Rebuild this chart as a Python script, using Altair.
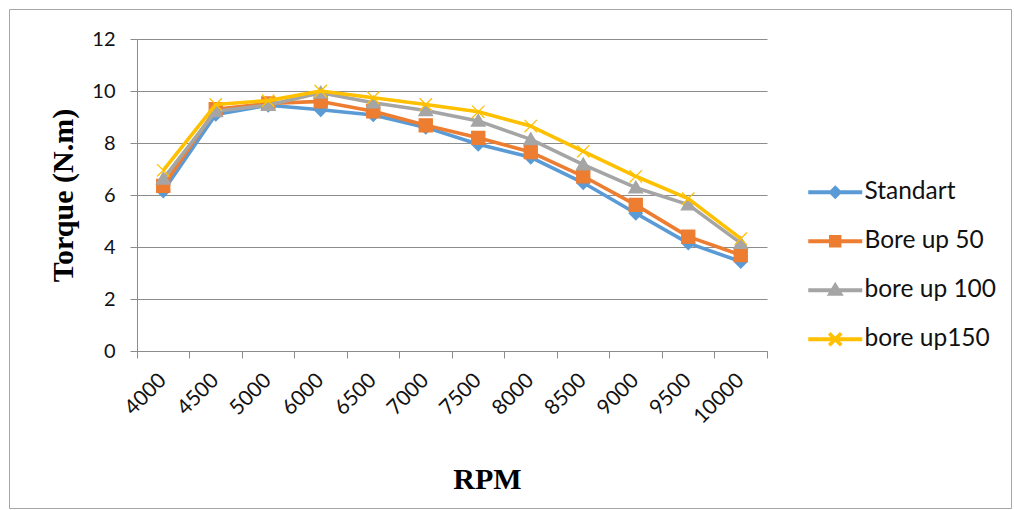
import altair as alt
import pandas as pd

rpm = ["4000", "4500", "5000", "6000", "6500", "7000", "7500", "8000", "8500", "9000", "9500", "10000"]
series_names = ["Standart", "Bore up 50", "bore up 100", "bore up150"]
standart = [6.15, 9.1, 9.45, 9.28, 9.08, 8.6, 7.95, 7.45, 6.47, 5.3, 4.15, 3.44]
bore_up_50 = [6.35, 9.3, 9.52, 9.6, 9.22, 8.68, 8.2, 7.65, 6.72, 5.62, 4.4, 3.69]
bore_up_100 = [6.62, 9.22, 9.46, 9.93, 9.55, 9.25, 8.85, 8.14, 7.17, 6.28, 5.63, 4.15]
bore_up_150 = [6.95, 9.48, 9.63, 10.0, 9.74, 9.48, 9.2, 8.65, 7.68, 6.72, 5.86, 4.32]
y_ticks = [0, 2, 4, 6, 8, 10, 12]

colors = ["#5B9BD5", "#ED7D31", "#A5A5A5", "#FFC000"]
legend_fills = ["#5B9BD5", "#ED7D31", "#A5A5A5", "transparent"]
marker_paths = [
    "M0,-1L1,0L0,1L-1,0Z",
    "M-1,-1H1V1H-1Z",
    "M0,-1L1.05,0.8H-1.05Z",
    "M-0.95,-0.95L0.95,0.95M-0.95,0.95L0.95,-0.95",
]
legend_paths = [
    "M-4.5,0H4.5M0,-0.72L0.72,0L0,0.72L-0.72,0Z",
    "M-4.5,0H4.5M-0.72,-0.72H0.72V0.72H-0.72Z",
    "M-4.5,0H4.5M0,-0.8L0.85,0.6H-0.85Z",
    "M-4.5,0H4.5M-1,-1L1,1M-1,1L1,-1",
]

GRID = "#8c8c8c"
LABEL_FONT = "Lato"
TITLE_FONT = "Liberation Serif"

rows = []
for name, vals in zip(series_names, [standart, bore_up_50, bore_up_100, bore_up_150]):
    for r, v in zip(rpm, vals):
        rows.append({"rpm": r, "torque": v, "series": name})
df = pd.DataFrame(rows)

x_scale = alt.Scale(type="band", domain=rpm, paddingInner=0, paddingOuter=0)
y_scale = alt.Scale(domain=[0, 12], nice=False)
color_scale = alt.Scale(domain=series_names, range=colors)

label_axis = alt.Axis(
    orient="bottom", bandPosition=0.5, ticks=False, domain=False, grid=False,
    labelAngle=-45, labelAlign="right", labelBaseline="middle", labelPadding=26,
    labelFont=LABEL_FONT, labelFontSize=21, labelColor="#111111", labelOverlap=False,
    title="RPM", titleFont=TITLE_FONT, titleFontSize=30, titleFontWeight="bold",
    titleColor="#000000", titleX=350, titleY=137, titleAlign="center",
    titleBaseline="alphabetic", titleAngle=0,
)
tick_axis = alt.Axis(
    orient="bottom", bandPosition=1, tickExtra=True, labels=False, domain=True,
    domainColor=GRID, tickColor=GRID, tickSize=7, grid=False, title=None,
)
y_axis = alt.Axis(
    orient="left", values=y_ticks, grid=True, gridColor=GRID, domainColor=GRID,
    tickColor=GRID, tickSize=7, labelPadding=15, labelFont=LABEL_FONT, labelFontSize=20,
    labelColor="#111111", title="Torque (N.m)", titleFont=TITLE_FONT,
    titleFontSize=30, titleFontWeight="bold", titleColor="#000000",
    titleX=-65, titleY=156, titleAngle=270, titleAlign="center",
    titleBaseline="alphabetic",
)

base = alt.Chart(df)

frame = alt.Chart(pd.DataFrame({"k": [0]})).mark_rect(
    filled=False, stroke="#a6a6a6", strokeWidth=1
).encode(
    x=alt.value(-127.5), x2=alt.value(874.5), y=alt.value(-29.5), y2=alt.value(469.5)
)

Y = alt.Y("torque:Q", scale=y_scale, axis=y_axis)

layers = [frame]
for i, name in enumerate(series_names):
    sub = base.transform_filter(alt.datum.series == name)
    x_axis = label_axis if i == 0 else (tick_axis if i == 1 else None)
    line = sub.mark_line(strokeWidth=3.6, strokeJoin="round").encode(
        x=alt.X("rpm:N", scale=x_scale, axis=x_axis, bandPosition=0.5),
        y=Y,
        color=alt.Color("series:N", scale=color_scale, legend=None),
    )
    pts = sub.mark_point(filled=True, size=170, strokeWidth=1.3, opacity=1).encode(
        x=alt.X("rpm:N", scale=x_scale, axis=None, bandPosition=0.5),
        y=Y,
        color=alt.Color("series:N", scale=color_scale, legend=None),
        stroke=alt.Stroke("series:N", scale=alt.Scale(domain=series_names, range=colors), legend=None),
        shape=alt.Shape("series:N", scale=alt.Scale(domain=series_names, range=marker_paths), legend=None),
    )
    layers += [line, pts]

leg = alt.Legend(
    orient="none", legendX=686, legendY=141, title=None, symbolSize=144,
    symbolStrokeWidth=3.8, labelFont=LABEL_FONT, labelFontSize=24.5, labelColor="#111111",
    labelOffset=17, rowPadding=23, symbolOpacity=1, padding=0,
)
legend_layer = base.mark_point(filled=True, opacity=0).encode(
    x=alt.X("rpm:N", scale=x_scale, axis=None, bandPosition=0.5),
    y=Y,
    fill=alt.Fill("series:N", scale=alt.Scale(domain=series_names, range=legend_fills), legend=leg),
    stroke=alt.Stroke("series:N", scale=alt.Scale(domain=series_names, range=colors), legend=leg),
    shape=alt.Shape("series:N", scale=alt.Scale(domain=series_names, range=legend_paths), legend=leg),
)
layers.append(legend_layer)

chart = alt.layer(*layers).resolve_scale(
    shape="independent", stroke="independent", fill="independent"
).resolve_axis(x="independent", y="shared").properties(
    width=630, height=312,
    padding={"left": 137, "top": 39, "right": 247, "bottom": 159},
    autosize=alt.AutoSizeParams(type="none"),
    background="white",
).configure_view(stroke=None)

chart.save("out.html", embed_options={"renderer": "svg", "actions": False})
